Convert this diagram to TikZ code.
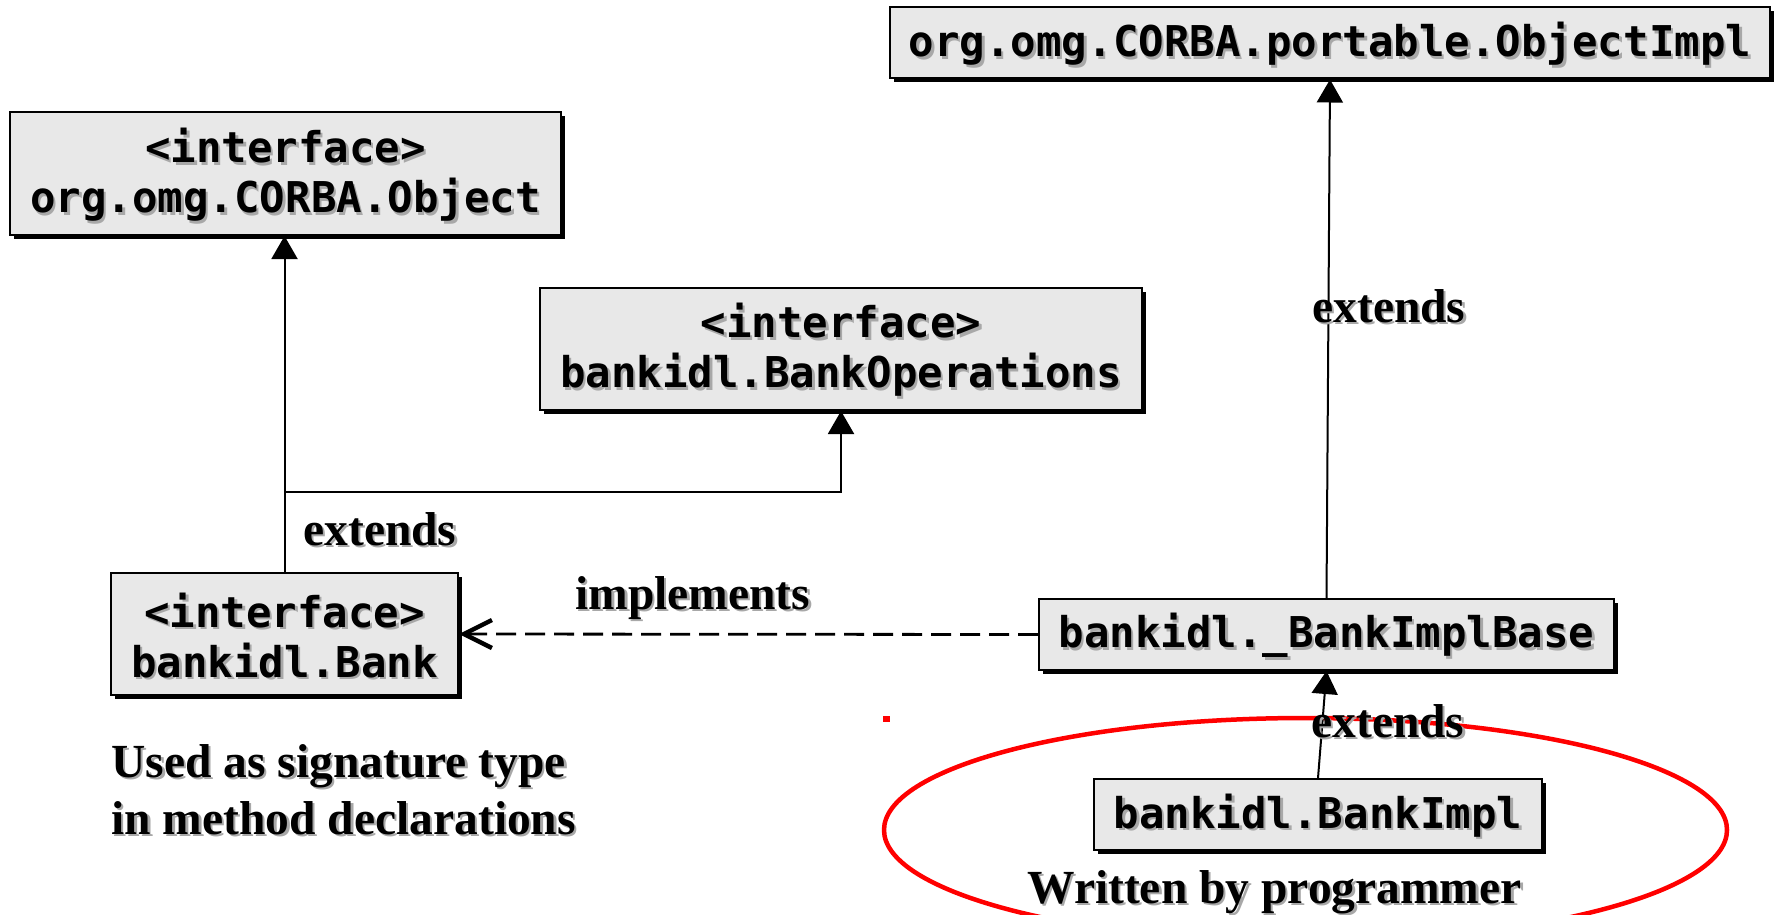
\documentclass[tikz,border=0pt]{standalone}
\usepackage{fontspec}
\setmainfont{Liberation Serif}
\setmonofont{DejaVu Sans Mono}
\usetikzlibrary{arrows.meta,shadows}
\definecolor{boxfill}{HTML}{E8E8E8}
\definecolor{txtshadow}{HTML}{A8A8A8}
\definecolor{ringred}{HTML}{FF0000}
% text with a soft grey drop shadow
\newcommand\shd[1]{\rlap{\kern1.2pt\raisebox{-1.2pt}{\textcolor{txtshadow}{#1}}}#1}
% extra head room on a box's first line, so its text sits a little low
\newcommand\headroom{\rule{0pt}{19.5pt}}

\begin{document}
\begin{tikzpicture}[x=0.5pt, y=-0.5pt,
  classbox/.style={draw=black, line width=1pt, fill=boxfill, inner sep=0pt,
    align=center, font=\ttfamily\bfseries\fontsize{21.2pt}{25pt}\selectfont,
    drop shadow={shadow xshift=2pt, shadow yshift=-2pt, fill=black, opacity=1}},
  lbl/.style={font=\bfseries\fontsize{23.75pt}{28.5pt}\selectfont, inner sep=0pt, anchor=base west},
  conn/.style={draw=black, line width=1pt},
  solidtip/.style={-{Triangle[length=11.5pt,width=13pt]}},
  opentip/.style={-{Straight Barb[length=14pt,width=14pt,line width=2.2pt]}},
  realize/.style={line width=1.4pt, dash pattern=on 10pt off 4.5pt}
]
\useasboundingbox (0,0) rectangle (1777,915);
\clip (0,0) rectangle (1777,915);

% the class written by hand, ringed in red
\draw[ringred, line width=2.25pt] (1305.5,830) ellipse [x radius=421.5, y radius=112];
\fill[ringred] (883,716) rectangle (890,722);

% classes and interfaces
\node[classbox, minimum width=440pt, minimum height=35.5pt] (impl) at (1330,43)
  {\headroom\shd{org.omg.CORBA.portable.ObjectImpl}};
\node[classbox, minimum width=275.5pt, minimum height=61.25pt] (obj) at (285.5,173.75)
  {\headroom\shd{<interface>}\\\shd{org.omg.CORBA.Object}};
\node[classbox, minimum width=301pt, minimum height=61pt] (ops) at (841,349)
  {\headroom\shd{<interface>}\\\shd{bankidl.BankOperations}};
\node[classbox, minimum width=173.5pt, minimum height=61pt] (bank) at (284.5,634)
  {\headroom\shd{<interface>}\\\shd{bankidl.Bank}};
\node[classbox, minimum width=287.5pt, minimum height=35.5pt] (base) at (1326.5,634.5)
  {\headroom\shd{bankidl.\_BankImplBase}};
\node[classbox, minimum width=224pt, minimum height=35.5pt] (bimpl) at (1318,814.5)
  {\headroom\shd{bankidl.BankImpl}};

% inheritance and realization
\draw[conn, solidtip] (bank.north) -- (bank.north |- obj.south);
\coordinate (split) at (284,492);
\draw[conn, solidtip] (split) -| (ops.south);
\draw[conn, solidtip] (base.north) -- (impl.south);
\draw[conn, solidtip] (bimpl.north) -- (base.south);
\draw[conn, realize, opentip] (base.west) -- (bank.east);

% labels
\node[lbl] (extL) at (303,545) {\shd{extends}};
\node[lbl] (extT) at (1312,322) {\shd{extends}};
\node[lbl] (extB) at (1311,737) {\shd{extends}};
\node[lbl] (implLbl) at (575,609) {\shd{implements}};
\node[lbl] (use1) at (111,777) {\shd{Used as signature type}};
\node[lbl] (use2) at (111,834) {\shd{in method declarations}};
\node[lbl] (writer) at (1027,903) {\shd{Written by programmer}};
\end{tikzpicture}
\end{document}
